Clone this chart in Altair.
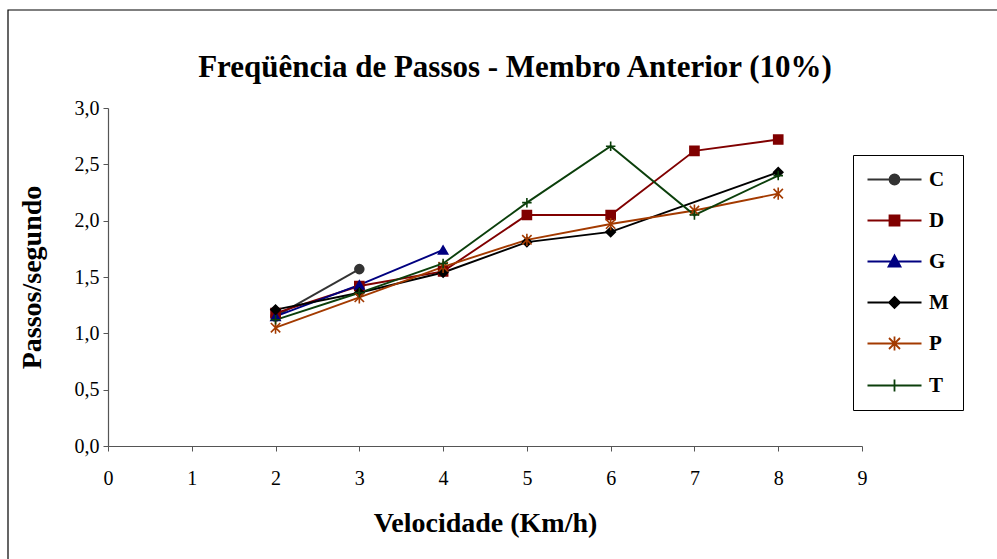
import altair as alt
import pandas as pd

# ---- data ----
velocidade = [2, 3, 4, 5, 6, 7, 8]
serie_C = [1.15, 1.57, None, None, None, None, None]
serie_D = [1.18, 1.42, 1.55, 2.05, 2.05, 2.62, 2.72]
serie_G = [1.15, 1.43, 1.74, None, None, None, None]
serie_M = [1.21, 1.36, 1.54, 1.81, 1.90, None, 2.43]
serie_P = [1.05, 1.32, 1.59, 1.83, 1.97, 2.09, 2.24]
serie_T = [1.12, 1.36, 1.62, 2.16, 2.66, 2.05, 2.40]

series_names = ["C", "D", "G", "M", "P", "T"]
series_vals = [serie_C, serie_D, serie_G, serie_M, serie_P, serie_T]
colors = ["#333333", "#800000", "#000080", "#000000", "#A33A00", "#0B3F0B"]

rows = []
for name, vals in zip(series_names, series_vals):
    for x, y in zip(velocidade, vals):
        if y is not None:
            rows.append({"serie": name, "leg": name, "vel": x, "val": y})
df = pd.DataFrame(rows)

FONT = "Liberation Serif"

# marker shapes for the data points
pt_shapes = [
    "circle",
    "square",
    "triangle-up",
    "diamond",
    "M-1,-1L1,1M-1,1L1,-1M0,-1.3V1.3",
    "M-1,0H1M0,-1V1",
]
pt_sizes = [80, 90, 120, 110, 120, 150]

# legend symbols: line through marker (units of 5px, symbol size=100)
L = "M-5.4,0H5.4"
leg_paths = [
    L + "M1,0A1,1 0 1 1 -1,0A1,1 0 1 1 1,0Z",
    L + "M-1,-1H1V1H-1Z",
    L + "M0,-1.2L1.2,1L-1.2,1Z",
    L + "M0,-1.1L1.1,0L0,1.1L-1.1,0Z",
    L + "M-1.1,-1.1L1.1,1.1M-1.1,1.1L1.1,-1.1M0,-1.4V1.4",
    L + "M0,-1.2V1.2",
]

color_scale = alt.Scale(domain=series_names, range=colors)

base = alt.Chart(df)

x_enc = alt.X(
    "vel:Q",
    scale=alt.Scale(domain=[0, 9], nice=False),
    axis=alt.Axis(
        values=list(range(10)),
        format="d",
        labelFlush=False,
        title="Velocidade (Km/h)",
        grid=False,
        tickSize=5,
        labelPadding=17,
        titlePadding=21,
    ),
)
y_enc = alt.Y(
    "val:Q",
    scale=alt.Scale(domain=[0, 3], nice=False),
    axis=alt.Axis(
        values=[0, 0.5, 1, 1.5, 2, 2.5, 3],
        labelExpr="replace(format(datum.value, '.1f'), '.', ',')",
        title="Passos/segundo",
        grid=False,
        tickSize=5,
        labelPadding=4,
        titlePadding=28,
    ),
)

lines = base.mark_line(strokeWidth=1.9).encode(
    x=x_enc,
    y=y_enc,
    color=alt.Color("serie:N", scale=color_scale, legend=None),
    detail="serie:N",
)

points = base.mark_point(filled=True, strokeWidth=1.6, opacity=1).encode(
    x="vel:Q",
    y="val:Q",
    color=alt.Color("serie:N", scale=color_scale, legend=None),
    stroke=alt.Stroke("serie:N", scale=color_scale, legend=None),
    shape=alt.Shape(
        "serie:N", scale=alt.Scale(domain=series_names, range=pt_shapes), legend=None
    ),
    size=alt.Size(
        "serie:N", scale=alt.Scale(domain=series_names, range=pt_sizes), legend=None
    ),
)

leg_def = alt.Legend(
    title=None,
    orient="none",
    legendX=745,
    legendY=47,
    padding=14,
    strokeColor="black",
    fillColor="white",
    symbolSize=100,
    symbolOffset=17,
    labelOffset=24,
    labelFont=FONT,
    labelFontSize=21,
    labelFontWeight="bold",
    labelColor="black",
    rowPadding=19,
    symbolStrokeWidth=1.8,
    symbolOpacity=1,
)

legend_layer = (
    base.transform_filter("false")
    .mark_point(size=100, strokeWidth=1.8, opacity=1)
    .encode(
        x="vel:Q",
        y="val:Q",
        fill=alt.Fill("leg:N", scale=color_scale, legend=leg_def),
        stroke=alt.Stroke("leg:N", scale=color_scale, legend=leg_def),
        shape=alt.Shape(
            "leg:N", scale=alt.Scale(domain=series_names, range=leg_paths), legend=leg_def
        ),
    )
)

frame = alt.Chart(pd.DataFrame({"a": [0]})).mark_rect(
    fill=None, stroke="black", strokeWidth=1.2
).encode(
    x=alt.value(-100), x2=alt.value(895), y=alt.value(-98), y2=alt.value(460)
)

chart = (
    alt.layer(frame, lines, points, legend_layer)
    .resolve_scale(shape="independent", stroke="independent", fill="independent",
                   color="independent", size="independent")
    .properties(
        width=754,
        height=338,
        title=alt.TitleParams(
            "Freqüência de Passos - Membro Anterior (10%)",
            font=FONT,
            fontSize=31,
            fontWeight="bold",
            color="black",
            anchor="middle",
            dx=30,
            offset=-75,
        ),
        autosize=alt.AutoSizeParams(type="none"),
        padding={"left": 108, "top": 108, "right": 135, "bottom": 113},
    )
    .configure(background="white")
    .configure_view(stroke=None)
    .configure_axis(
        domainColor="#555555",
        tickColor="#555555",
        domainWidth=1.2,
        labelFont=FONT,
        labelFontSize=20,
        labelColor="black",
        titleFont=FONT,
        titleFontSize=28,
        titleFontWeight="bold",
        titleColor="black",
    )
)

chart.save("out.html", embed_options={"renderer": "svg", "actions": False})
